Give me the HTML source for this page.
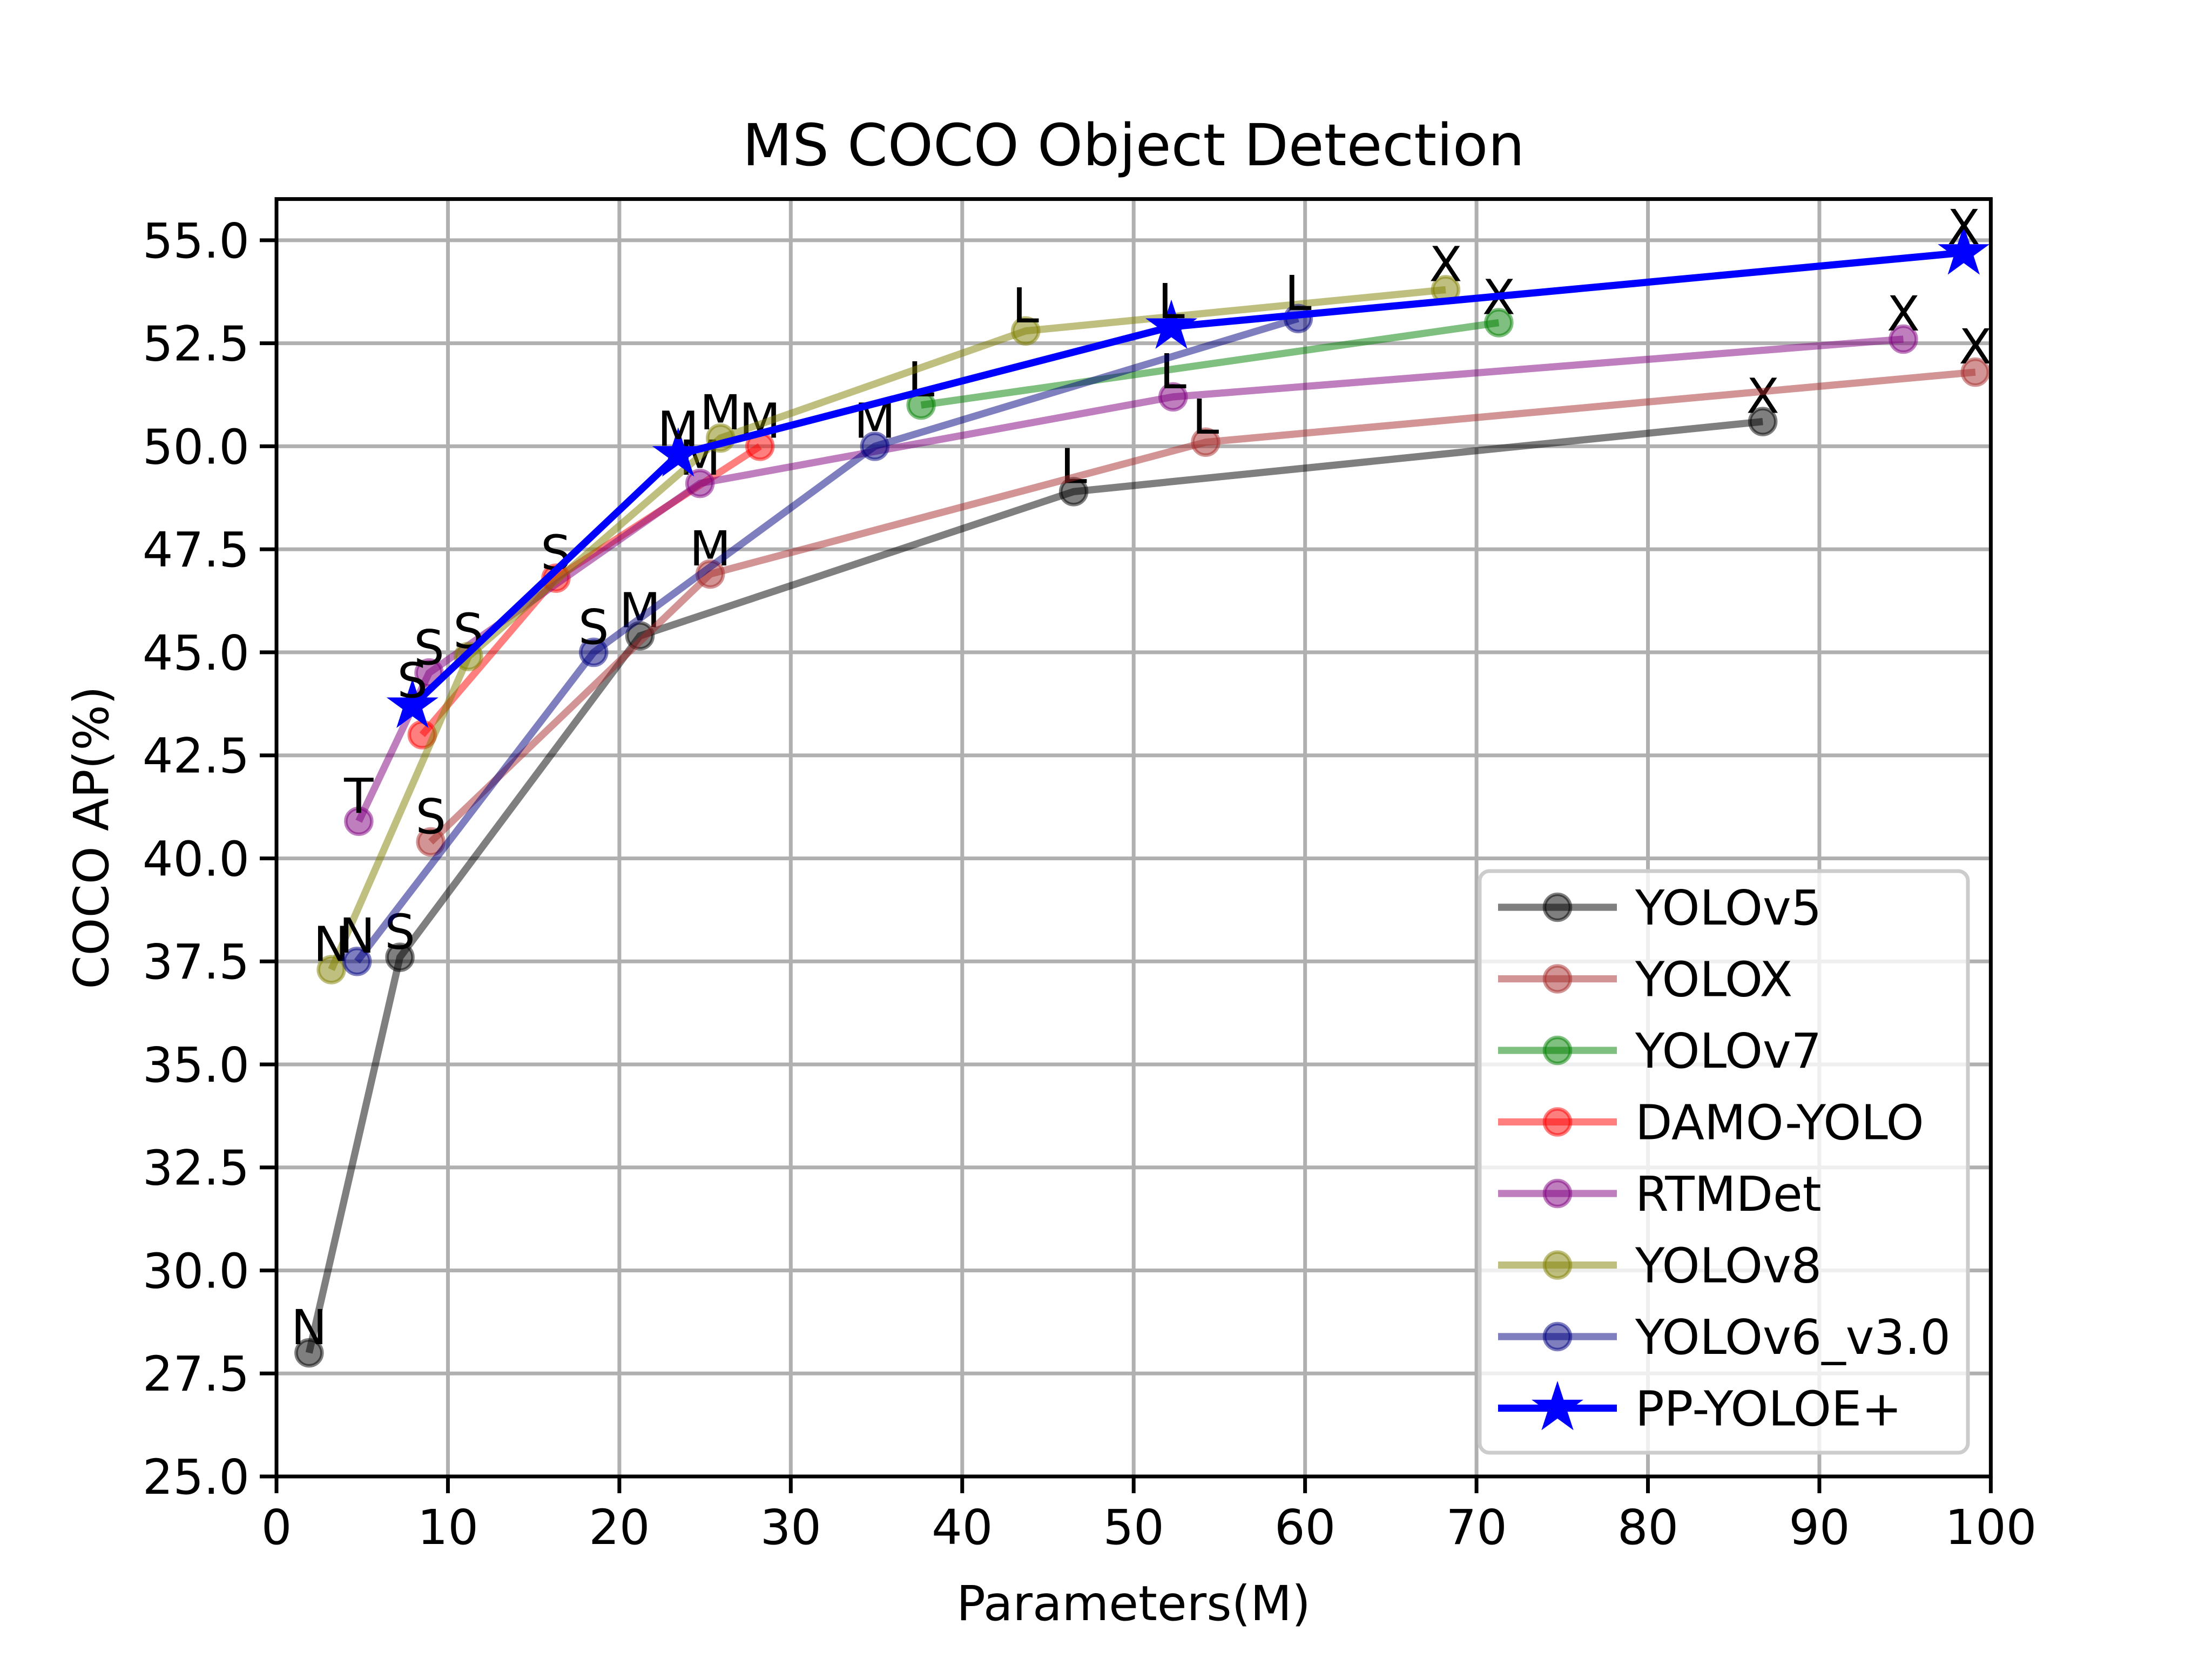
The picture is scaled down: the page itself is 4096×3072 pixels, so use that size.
<!DOCTYPE html>
<html><head><meta charset="utf-8"><style>
html,body{margin:0;padding:0;background:#fff;}
svg{display:block;font-family:"DejaVu Sans","Liberation Sans",sans-serif;}
</style></head><body>
<svg id="s" width="4096" height="3072" viewBox="0 0 4096 3072" xmlns="http://www.w3.org/2000/svg">
<rect width="4096" height="3072" fill="#fff"/>
<g id="grid"></g>
<g id="series"></g>
<rect x="512" y="368.6" width="3174.4" height="2365.4" fill="none" stroke="#000" stroke-width="7"/>
<g id="ticks" font-size="89"></g>
<text x="2099" y="306" font-size="107" text-anchor="middle">MS COCO Object Detection</text>
<text x="2099" y="3000" font-size="89" text-anchor="middle">Parameters(M)</text>
<text x="0" y="0" font-size="89" text-anchor="middle" transform="translate(200,1551) rotate(-90)">COCO AP(%)</text>
<g id="legend" font-size="89">
<rect x="2740" y="1613" width="904" height="1077" rx="18" fill="#fff" fill-opacity="0.8" stroke="#ccc" stroke-width="7"/>
</g>
</svg>
<script>
const NS="http://www.w3.org/2000/svg";
const X0=512,X1=3686.4,Y0=2734,Y1=368.6;
const px=x=>X0+(x/100)*(X1-X0), py=y=>Y0-(y-25)/31*(Y0-Y1);
function el(p,t,a,txt){const e=document.createElementNS(NS,t);for(const k in a)e.setAttribute(k,a[k]);if(txt!==undefined)e.textContent=txt;document.getElementById(p).appendChild(e);return e;}
for(let x=0;x<=100;x+=10){const X=px(x);
 el("grid","line",{x1:X,x2:X,y1:Y1,y2:Y0,stroke:"#b0b0b0","stroke-width":7});
 el("ticks","line",{x1:X,x2:X,y1:Y0,y2:Y0+31,stroke:"#000","stroke-width":7});
 el("ticks","text",{x:X,y:Y0+125,"text-anchor":"middle"},String(x));}
for(let y=25;y<=55.01;y+=2.5){const Y=py(y);
 el("grid","line",{x1:X0,x2:X1,y1:Y,y2:Y,stroke:"#b0b0b0","stroke-width":7});
 el("ticks","line",{x1:X0-31,x2:X0,y1:Y,y2:Y,stroke:"#000","stroke-width":7});
 el("ticks","text",{x:X0-50,y:Y+32,"text-anchor":"end"},y.toFixed(1));}
const S=[
["YOLOv5","#000000",[[1.9,28.0,"N"],[7.2,37.6,"S"],[21.2,45.4,"M"],[46.5,48.9,"L"],[86.7,50.6,"X"]]],
["YOLOX","#a52a2a",[[9.0,40.4,"S"],[25.3,46.9,"M"],[54.2,50.1,"L"],[99.1,51.8,"X"]]],
["YOLOv7","#008000",[[37.6,51.0,"L"],[71.3,53.0,"X"]]],
["DAMO-YOLO","#ff0000",[[8.5,43.0,""],[16.3,46.8,"S"],[28.2,50.0,"M"]]],
["RTMDet","#800080",[[4.8,40.9,"T"],[8.9,44.5,"S"],[24.7,49.1,"M"],[52.3,51.2,"L"],[94.9,52.6,"X"]]],
["YOLOv8","#808000",[[3.2,37.3,"N"],[11.2,44.9,"S"],[25.9,50.2,"M"],[43.7,52.8,"L"],[68.2,53.8,"X"]]],
["YOLOv6_v3.0","#000080",[[4.7,37.5,"N"],[18.5,45.0,"S"],[34.9,50.0,"M"],[59.6,53.1,"L"]]],
];
function star(cx,cy,r){let p=[];for(let i=0;i<10;i++){const a=-Math.PI/2+i*Math.PI/5,rr=i%2?r*0.382:r;p.push((cx+rr*Math.cos(a)).toFixed(1)+","+(cy+rr*Math.sin(a)).toFixed(1));}return p.join(" ");}
S.forEach(([n,c,d])=>{
 el("series","polyline",{points:d.map(p=>px(p[0])+","+py(p[1])).join(" "),fill:"none",stroke:c,"stroke-opacity":0.5,"stroke-width":13.3});
 d.forEach(p=>{el("series","circle",{cx:px(p[0]),cy:py(p[1]),r:24,fill:c,"fill-opacity":0.5,stroke:c,"stroke-opacity":0.5,"stroke-width":6.5});});
 d.forEach(p=>{if(p[2])el("series","text",{x:px(p[0]),y:py(p[1])-16,"font-size":89,"text-anchor":"middle"},p[2]);});
});
const P=[[7.93,43.7,"S"],[23.43,49.8,"M"],[52.2,52.9,"L"],[98.42,54.7,"X"]];
el("series","polyline",{points:P.map(p=>px(p[0])+","+py(p[1])).join(" "),fill:"none",stroke:"#0000ff","stroke-width":13.3});
P.forEach(p=>el("series","polygon",{points:star(px(p[0]),py(p[1]),44),fill:"#0000ff",stroke:"#0000ff","stroke-width":4}));
P.forEach(p=>el("series","text",{x:px(p[0]),y:py(p[1])-16,"font-size":89,"text-anchor":"middle"},p[2]));
const L=S.concat([["PP-YOLOE+","#0000ff",null]]);
L.forEach(([n,c,d],i)=>{const y=1680+i*132.5;
 const op=d?0.5:1;
 el("legend","line",{x1:2774,x2:2994,y1:y,y2:y,stroke:c,"stroke-opacity":op,"stroke-width":13.3});
 if(d) el("legend","circle",{cx:2884,cy:y,r:24,fill:c,"fill-opacity":0.5,stroke:c,"stroke-opacity":0.5,"stroke-width":6.5});
 else el("legend","polygon",{points:star(2884,y,44),fill:"#0000ff",stroke:"#0000ff","stroke-width":4});
 el("legend","text",{x:3028,y:y+32},n);
});
</script>
</body></html>
